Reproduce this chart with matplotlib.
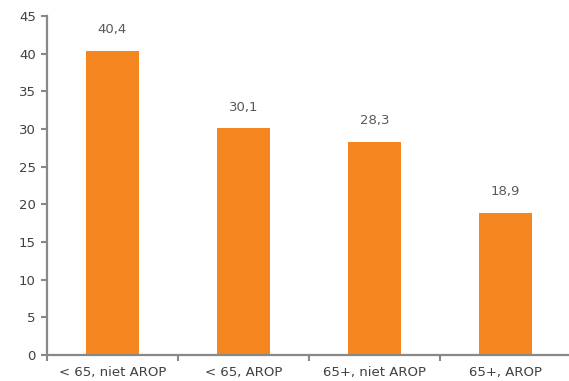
import numpy as np
import matplotlib.pyplot as plt

categories = ['< 65, niet AROP', '< 65, AROP', '65+, niet AROP', '65+, AROP']
values = [40.4, 30.1, 28.3, 18.9]
yticks = [0, 5, 10, 15, 20, 25, 30, 35, 40, 45]

orange = '#F5851F'
axis_grey = '#888888'
text_grey = '#404040'

fig = plt.figure(figsize=(5.69, 3.81), dpi=100)
ax = fig.add_axes([47 / 569, 26 / 381, 524 / 569, 339 / 381])

x = np.arange(len(categories))
bars = ax.bar(x, values, width=0.4, color=orange, zorder=2)

for xi, v in zip(x, values):
    ax.text(xi, v + 1.9, f'{v:.1f}'.replace('.', ','), ha='center', va='bottom',
            fontsize=9.5, color='#595959')

ax.set_xlim(-0.5, len(categories) - 0.5)
ax.set_ylim(0, 45)
ax.set_yticks(yticks)
ax.set_yticklabels([str(t) for t in yticks], fontsize=9.5, color=text_grey)

# category labels in the middle, tick marks on the boundaries
ax.set_xticks(x)
ax.set_xticklabels(categories, fontsize=9.5, color=text_grey)
ax.tick_params(axis='x', length=0, pad=8)
ax.set_xticks(np.arange(len(categories) + 1) - 0.5, minor=True)
ax.tick_params(axis='x', which='minor', length=4, width=1.5, color=axis_grey, direction='out')
ax.tick_params(axis='y', length=4, width=1.5, color=axis_grey, direction='out', pad=4)

for side in ['top', 'right']:
    ax.spines[side].set_visible(False)
for side in ['left', 'bottom']:
    ax.spines[side].set_color(axis_grey)
    ax.spines[side].set_linewidth(1.6)

fig.savefig('out.png', dpi=100)
